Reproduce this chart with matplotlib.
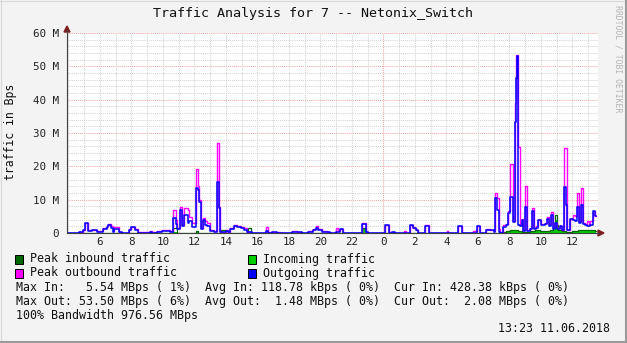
import matplotlib
matplotlib.use('Agg')
import matplotlib.pyplot as plt
from matplotlib.lines import Line2D
from matplotlib.patches import Polygon, Rectangle
import matplotlib.transforms as mtransforms

# ---------------- data (hours since midnight of day 1, values in M) -------------
t_out = [3.92, 4.68, 4.93, 5.06, 5.25, 5.5, 5.82, 6.2, 6.46, 6.55,
         6.71, 6.84, 6.9, 7.19, 7.4, 7.85, 7.98, 8.24, 8.43, 8.8,
         9.19, 9.31, 9.63, 9.95, 10.2, 10.46, 10.65, 10.84, 10.93, 11.09,
         11.25, 11.35, 11.57, 11.66, 11.85, 12.1, 12.23, 12.33, 12.43, 12.55,
         12.68, 12.8, 13.0, 13.25, 13.43, 13.55, 13.63, 14.0, 14.13, 14.27,
         14.52, 14.71, 14.97, 15.16, 15.35, 15.66, 16.55, 16.68, 16.94, 17.26,
         17.44, 18.2, 18.52, 18.84, 19.22, 19.53, 19.73, 19.86, 20.11, 20.43,
         20.62, 21.0, 21.13, 21.25, 21.44, 22.63, 22.9, 23.03, 24.1, 24.36,
         24.55, 24.74, 25.31, 25.44, 25.69, 25.88, 26.07, 26.2, 26.65, 26.9,
         28.04, 28.13, 28.72, 28.99, 29.69, 29.92, 30.14, 30.52, 30.78, 31.0,
         31.09, 31.2, 31.32, 31.41, 31.6, 31.8, 31.92, 32.05, 32.22, 32.33,
         32.43, 32.49, 32.57, 32.65, 32.78, 32.89, 33.0, 33.15, 33.31, 33.46,
         33.57, 33.69, 33.82, 33.99, 34.14, 34.26, 34.37, 34.54, 34.65, 34.76,
         34.9, 35.0, 35.22, 35.33, 35.49, 35.6, 35.68, 35.85, 36.02, 36.14,
         36.28, 36.42, 36.55, 36.7, 36.81, 36.93, 37.06, 37.12, 37.3, 37.44]

peak_out = [0, 0.4, 1.0, 3.0, 0.8, 1.0, 0.5, 1.5, 2.0, 2.7,
            2.0, 0.5, 1.9, 0.3, 0.1, 1.2, 1.9, 1.2, 0.2, 0.2,
            0.5, 0.2, 0.6, 0.8, 1.0, 0.5, 6.9, 4.0, 1.5, 7.9,
            2.5, 7.4, 7.0, 4.9, 2.9, 19.1, 14.1, 9.9, 1.5, 4.5,
            3.5, 2.9, 1.0, 0.5, 27.1, 7.9, 0.3, 1.0, 0.3, 1.6,
            2.4, 2.0, 1.7, 1.5, 0.3, 0.1, 1.9, 0.2, 0.2, 0.4,
            0.1, 0.6, 0.3, 0.1, 0.6, 1.2, 2.2, 1.3, 0.6, 0.3,
            0.1, 1.5, 0.5, 1.3, 0.1, 2.9, 0.3, 0.0, 2.5, 0.2,
            0.4, 0.0, 0.6, 0.0, 2.4, 1.5, 1.0, 0.0, 2.3, 0.0,
            0.6, 0.0, 2.2, 0.0, 0.6, 2.2, 0.1, 1.2, 1.0, 0.5,
            11.9, 10.4, 1.3, 0.1, 2.3, 2.8, 6.5, 20.7, 3.5, 38.9,
            53.5, 53.5, 25.9, 2.8, 4.2, 0.8, 14.2, 0.8, 1.5, 7.6,
            1.6, 2.0, 4.0, 2.8, 2.8, 3.0, 4.9, 2.6, 6.2, 1.8,
            3.0, 1.5, 2.2, 1.0, 25.4, 25.4, 1.0, 4.1, 5.4, 5.0,
            11.9, 3.5, 13.4, 3.0, 2.8, 3.5, 2.5, 3.5, 6.7, 5.0]

avg_out = [0, 0.3, 0.8, 2.9, 0.5, 0.9, 0.3, 1.3, 1.8, 2.3,
           1.6, 0.3, 1.2, 0.2, 0.0, 1.0, 1.9, 0.8, 0.0, 0.1,
           0.2, 0.1, 0.4, 0.6, 0.6, 0.3, 4.5, 2.6, 1.2, 6.9,
           2.0, 5.5, 3.0, 3.5, 1.9, 13.4, 12.8, 9.3, 1.2, 3.9,
           2.4, 2.0, 0.6, 0.3, 15.4, 7.5, 0.2, 0.7, 0.2, 1.2,
           2.0, 1.8, 1.4, 0.8, 0.2, 0.1, 0.6, 0.1, 0.2, 0.1,
           0.0, 0.4, 0.2, 0.0, 0.4, 1.0, 1.6, 1.0, 0.4, 0.2,
           0.0, 0.4, 0.3, 1.2, 0.0, 2.8, 0.2, 0.0, 2.5, 0.1,
           0.3, 0.0, 0.0, 0.0, 2.4, 1.5, 0.9, 0.0, 2.2, 0.0,
           0.0, 0.0, 2.1, 0.0, 0.0, 2.0, 0.0, 0.9, 0.9, 0.3,
           10.4, 6.9, 0.3, 0.0, 1.8, 2.4, 6.0, 10.9, 3.2, 33.4,
           46.4, 53.2, 2.3, 2.0, 3.9, 0.5, 7.9, 0.6, 1.2, 6.5,
           1.2, 1.5, 3.9, 2.5, 2.5, 2.8, 4.2, 2.1, 5.5, 1.2,
           3.0, 1.2, 2.0, 0.8, 13.9, 8.4, 0.8, 4.1, 3.9, 3.5,
           7.9, 3.0, 8.4, 2.8, 2.4, 2.2, 2.0, 2.5, 6.5, 5.0]

t_in = [3.92, 10.65, 10.9, 12.1, 12.23, 13.67, 13.92, 15.41, 15.58, 22.63,
        22.9, 31.41, 31.8, 32.05, 32.3, 32.55, 32.8, 33.05, 33.31, 33.63,
        33.95, 34.26, 34.59, 34.78, 34.9, 35.0, 35.1, 35.35, 35.6, 35.98,
        36.36, 36.81, 37.12, 37.44]
peak_in = [0.05, 1.4, 0.1, 0.6, 0.1, 1.0, 0.1, 1.5, 0.1, 1.5,
           0.1, 0.3, 0.6, 0.9, 1.0, 0.7, 0.4, 0.2, 0.5, 0.8,
           0.6, 0.5, 1.0, 2.0, 5.54, 2.5, 0.8, 0.5, 0.3, 0.5,
           0.9, 1.0, 0.8, 0.7]
avg_in = [0.02, 0.2, 0.05, 0.2, 0.05, 0.1, 0.05, 0.3, 0.05, 1.3,
          0.05, 0.2, 0.5, 0.8, 0.9, 0.6, 0.3, 0.15, 0.4, 0.6,
          0.5, 0.3, 0.8, 1.0, 3.9, 1.5, 0.5, 0.3, 0.2, 0.4,
          0.7, 0.8, 0.6, 0.5]
t_end = 37.5

y_ticks = [0, 10, 20, 30, 40, 50, 60]
y_tick_labels = ['0', '10 M', '20 M', '30 M', '40 M', '50 M', '60 M']
x_ticks = [6, 8, 10, 12, 14, 16, 18, 20, 22, 24, 26, 28, 30, 32, 34, 36]
x_tick_labels = ['6', '8', '10', '12', '14', '16', '18', '20', '22',
                 '0', '2', '4', '6', '8', '10', '12']

title = 'Traffic Analysis for 7 -- Netonix_Switch'
legend_items = [('Peak inbound traffic', '#006600'),
                ('Incoming traffic', '#00CC00'),
                ('Peak outbound traffic', '#FF00FF'),
                ('Outgoing traffic', '#0000FF')]
stats_lines = ['Max In:   5.54 MBps ( 1%)  Avg In: 118.78 kBps ( 0%)  Cur In: 428.38 kBps ( 0%)',
               'Max Out: 53.50 MBps ( 6%)  Avg Out:  1.48 MBps ( 0%)  Cur Out:  2.08 MBps ( 0%)',
               '100% Bandwidth 976.56 MBps']
timestamp = '13:23 11.06.2018'

# ---------------- figure -------------------------------------------------------
W, H = 627, 343
MONO = 'DejaVu Sans Mono'
fig = plt.figure(figsize=(W / 100, H / 100), dpi=100)
fig.patch.set_facecolor('#F3F3F3')
pxT = mtransforms.Affine2D().scale(1 / W, -1 / H).translate(0, 1) + fig.transFigure

L, R, T, B = 67, 598, 33, 233
ax = fig.add_axes([L / W, 1 - B / H, (R - L) / W, (B - T) / H])
ax.set_facecolor('white')
ax.set_xlim(3.92, 37.63)
ax.set_ylim(0, 60)
for s in ax.spines.values():
    s.set_visible(False)

# grid
for v in range(2, 61, 2):
    c = '#F0A8A8' if v % 10 == 0 else '#D4D4D4'
    ax.axhline(v, color=c, lw=0.75, ls=(0, (1, 1)), zorder=0.5)
for h in range(4, 38):
    c = '#F0A8A8' if h == 24 else '#D4D4D4'
    ax.axvline(h, color=c, lw=0.75, ls=(0, (1, 1)), zorder=0.5)

# data
ti = t_in + [t_end]
pi = peak_in + [peak_in[-1]]
ai = avg_in + [avg_in[-1]]
to = t_out + [t_end]
po = peak_out + [peak_out[-1]]
ao = avg_out + [avg_out[-1]]
ax.fill_between(ti, 0, ai, step='post', color='#00CC00', lw=0, zorder=2)
ax.step(ti, pi, where='post', color='#006600', lw=0.9, zorder=3)
ax.step(to, po, where='post', color='#FF00FF', lw=1.0, zorder=4)
ax.step(to, ao, where='post', color='#0000FF', lw=1.1, zorder=5)

ax.set_yticks(y_ticks)
ax.set_yticklabels(y_tick_labels, family=MONO, fontsize=7.8, color='#222222')
ax.set_xticks(x_ticks)
ax.set_xticklabels(x_tick_labels, family=MONO, fontsize=7.8, color='#222222')
ax.tick_params(axis='y', length=0, pad=6)
ax.tick_params(axis='x', length=0, pad=3)

# axis lines and arrows
axc = '#404040'
fig.add_artist(Line2D([L, 599], [B, B], color=axc, lw=0.8, transform=pxT))
fig.add_artist(Line2D([L, L], [B, 30], color=axc, lw=0.8, transform=pxT))
arrow_c = '#7F1F1F'
fig.add_artist(Polygon([[64, 32], [70, 32], [67, 26]], closed=True, color=arrow_c, transform=pxT))
fig.add_artist(Polygon([[598, 230], [598, 236], [604, 233]], closed=True, color=arrow_c, transform=pxT))

# texts
fig.text(313 / W, 1 - 14 / H, title, ha='center', va='center', family=MONO, fontsize=9.6, color='#111111')
fig.text(11 / W, 1 - 132 / H, 'traffic in Bps', rotation=90, ha='center', va='center',
         family=MONO, fontsize=8.3, color='#111111')
fig.text(618 / W, 1 - 59 / H, 'RRDTOOL / TOBI OETIKER', rotation=270, ha='center', va='center',
         family=MONO, fontsize=5.9, color='#B4B4B4')

sw_x = [15, 248]
txt_x = [30, 263]
row_y = [259, 273]
for i, (lab, col) in enumerate(legend_items):
    r, c = divmod(i, 2)
    fig.add_artist(Rectangle((sw_x[c], row_y[r] - 4.5), 8, 9, facecolor=col, edgecolor='black',
                             lw=0.7, transform=pxT))
    fig.text(txt_x[c] / W, 1 - row_y[r] / H, lab, ha='left', va='center', family=MONO,
             fontsize=8.35, color='#111111')

for j, line in enumerate(stats_lines):
    fig.text(16 / W, 1 - (287 + 14 * j) / H, line, ha='left', va='center', family=MONO,
             fontsize=8.35, color='#111111')
fig.text(610 / W, 1 - 329 / H, timestamp, ha='right', va='center', family=MONO,
         fontsize=8.35, color='#111111')

# frame
fig.add_artist(Line2D([0, W], [0.5, 0.5], color='#D8D8D8', lw=0.8, transform=pxT))
fig.add_artist(Line2D([0.5, 0.5], [0, H], color='#D8D8D8', lw=0.8, transform=pxT))
fig.add_artist(Line2D([0, W], [342, 342], color='#9A9A9A', lw=1.5, transform=pxT))
fig.add_artist(Line2D([626, 626], [0, H], color='#9A9A9A', lw=1.5, transform=pxT))

fig.savefig('out.png', dpi=100, facecolor=fig.get_facecolor())
